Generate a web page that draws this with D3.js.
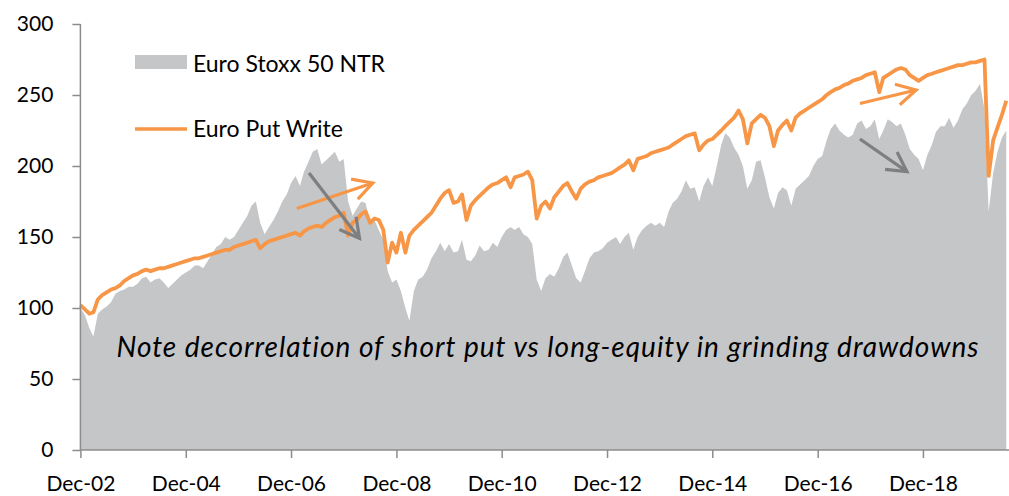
<!DOCTYPE html>
<html><head><meta charset="utf-8">
<script src="https://cdn.jsdelivr.net/npm/d3@7"></script>
<style>
body{margin:0;background:#fff}
svg{display:block}
text{font-family:Lato,"Open Sans",sans-serif;fill:#000}
</style>
</head><body>
<svg id="chart" width="1009" height="496"></svg>
<script>
// Monthly observations, first point = Dec 2002
const firstMonth = "2002-12";
const stoxx = [
 100,95,86,80,96,99,101,104,110,112,113,115,
 115,117,121,122,118,120,121,118,114,117,120,123,
 125,127,130,130,128,133,138,143,145,150,148,150,
 155,160,165,172,175,160,152,157,162,168,175,180,
 188,193,186,196,203,210,212,201,204,207,210,203,
 205,175,165,170,175,174,160,162,155,148,126,118,
 120,112,100,91,112,120,122,127,135,140,146,140,
 145,139,140,148,134,133,137,144,140,141,146,143,
 150,155,157,155,157,152,150,145,120,112,121,124,
 122,128,136,139,130,121,118,126,135,139,140,142,
 146,148,150,145,150,153,141,150,155,158,160,158,
 160,157,168,174,177,182,190,184,185,175,186,192,
 186,200,215,223,220,213,208,200,184,190,203,204,
 192,178,170,181,185,183,172,184,187,190,193,200,
 205,207,218,226,230,225,222,220,222,230,232,226,
 228,233,219,225,233,231,228,230,222,212,208,205,
 197,208,215,224,228,228,234,227,232,240,244,250,
 253,258,240,168,195,210,220,225
];
const putWrite = [
 102,99,96,97,106,109,111,113,114,116,119,121,
 123,124,126,127,126,127,128,128,129,130,131,132,
 133,134,135,135,136,137,138,139,140,141,141,143,
 144,145,146,147,148,142,145,147,148,149,150,151,
 152,153,151,154,156,157,158,157,160,162,164,165,
 167,151,160,162,166,168,160,163,162,155,132,146,
 139,153,139,151,155,158,161,164,167,172,177,181,
 183,174,175,180,162,172,176,179,182,185,187,188,
 190,192,185,192,193,194,196,190,163,172,175,170,
 178,182,186,188,182,177,184,187,189,190,192,193,
 194,195,197,199,201,204,197,205,206,207,209,210,
 211,212,213,215,217,219,221,222,223,211,215,218,
 219,222,225,228,231,234,239,233,216,230,233,236,
 234,228,214,225,229,232,225,234,237,239,241,243,
 245,247,250,252,254,255,257,258,260,261,262,264,
 265,266,252,262,264,266,268,269,268,264,262,260,
 262,264,265,266,267,268,269,270,271,271,272,273,
 273,274,275,193,218,227,236,246
];
const tickMonths = ["2002-12-01","2004-12-01","2006-12-01","2008-12-01","2010-12-01","2012-12-01","2014-12-01","2016-12-01","2018-12-01"];
const tickLabels = ["Dec-02","Dec-04","Dec-06","Dec-08","Dec-10","Dec-12","Dec-14","Dec-16","Dec-18"];
const yTicks = [0,50,100,150,200,250,300];
const seriesNames = ["Euro Stoxx 50 NTR","Euro Put Write"];
const note = "Note decorrelation of short put vs long-equity in grinding drawdowns";
// arrows: [date, value] -> [date, value]
const arrows = [
 {from:["2007-01-10",170],to:["2008-06-20",188],color:"#f79646"},
 {from:["2007-04-05",195],to:["2008-03-20",149],color:"#7f7f7f"},
 {from:["2017-09-20",244],to:["2018-10-15",253.5],color:"#f79646"},
 {from:["2017-09-20",219],to:["2018-08-12",196],color:"#7f7f7f"}
];

const parse = d3.timeParse("%Y-%m-%d");
const start = parse(firstMonth + "-01");
const dates = stoxx.map((_, i) => d3.timeMonth.offset(start, i));
const svg = d3.select("#chart");

const x = d3.scaleTime().domain([start, new Date(2020, 6, 20)]).range([80.4, 1009]);
const y = d3.scaleLinear().domain([0, 300]).range([450, 24]);

const grey = "#c5c6c8", orange = "#f79646", axisCol = "#8c8c8c";

svg.append("path")
  .datum(stoxx.map((v, i) => ({d: dates[i], v})))
  .attr("fill", grey)
  .attr("d", d3.area().x(p => x(p.d)).y0(y(0)).y1(p => y(p.v)));

svg.append("path")
  .datum(putWrite.map((v, i) => ({d: dates[i], v})))
  .attr("fill", "none").attr("stroke", orange).attr("stroke-width", 3.8)
  .attr("stroke-linejoin", "round")
  .attr("d", d3.line().x(p => x(p.d)).y(p => y(p.v)));

// axes
const yAxis = svg.append("g").attr("transform", "translate(80.4,0)")
  .call(d3.axisLeft(y).tickValues(yTicks).tickSize(8).tickPadding(19));
const xAxis = svg.append("g").attr("transform", "translate(0,450)")
  .call(d3.axisBottom(x).tickValues(tickMonths.map(parse))
    .tickFormat((d, i) => tickLabels[i]).tickSize(8).tickSizeOuter(0));
[yAxis, xAxis].forEach(g => {
  g.select(".domain").attr("stroke", axisCol).attr("stroke-width", 1.5);
  g.selectAll(".tick line").attr("stroke", axisCol).attr("stroke-width", 1.5);
  g.selectAll("text").attr("font-size", 21).attr("font-family", "Lato").attr("fill", "#000");
});
yAxis.select(".domain").attr("d", `M0,${y(300)}V${y(0)}`);
xAxis.select(".domain").attr("d", `M80.4,0H1009`);
xAxis.selectAll(".tick text").attr("y", 41).attr("dy", 0);

// note
svg.append("text").attr("x", 548).attr("y", 357).attr("text-anchor", "middle")
  .attr("font-size", 28).attr("letter-spacing", 1).attr("font-style", "italic").text(note);

// arrows
arrows.forEach(a => {
  const x1 = x(parse(a.from[0])), y1 = y(a.from[1]);
  const x2 = x(parse(a.to[0])), y2 = y(a.to[1]);
  const ang = Math.atan2(y2 - y1, x2 - x1), L = 22, h = 0.5;
  const g = svg.append("g").attr("stroke", a.color).attr("stroke-width", 3.2)
    .attr("fill", "none").attr("stroke-linecap", "butt");
  g.append("line").attr("x1", x1).attr("y1", y1).attr("x2", x2).attr("y2", y2);
  g.append("path").attr("d",
    `M${x2 - L*Math.cos(ang - h)},${y2 - L*Math.sin(ang - h)}L${x2},${y2}L${x2 - L*Math.cos(ang + h)},${y2 - L*Math.sin(ang + h)}`);
});

// legend
const lg = svg.append("g");
lg.append("rect").attr("x", 135).attr("y", 55).attr("width", 52).attr("height", 14).attr("fill", grey);
lg.append("text").attr("x", 193).attr("y", 72).attr("font-size", 23).text(seriesNames[0]);
lg.append("line").attr("x1", 135).attr("x2", 187).attr("y1", 129).attr("y2", 129)
  .attr("stroke", orange).attr("stroke-width", 3.6);
lg.append("text").attr("x", 193).attr("y", 137).attr("font-size", 23).text(seriesNames[1]);
</script>
</body></html>
